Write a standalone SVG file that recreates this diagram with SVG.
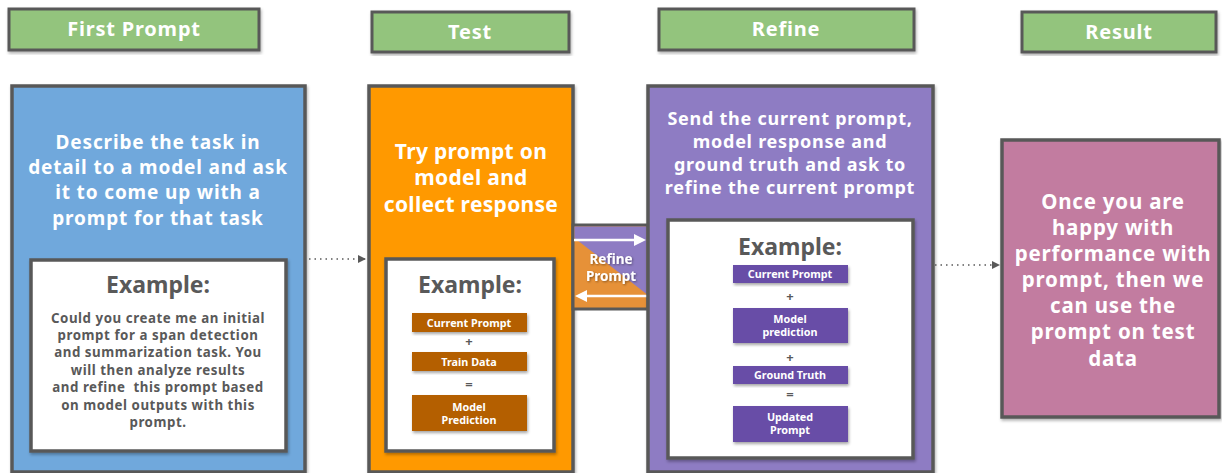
<svg xmlns="http://www.w3.org/2000/svg" width="1222" height="473" viewBox="0 0 1222 473">
<defs>
<style>
.hdr{fill:#93C47D;stroke:#595959;stroke-width:3;filter:url(#sh)}
.box{stroke:#595959;stroke-width:3.5;filter:url(#sh)}
.inner{fill:#fff;stroke:#595959;stroke-width:3.5;filter:url(#sh)}
text{font-family:"Noto Sans","Liberation Sans",sans-serif;font-weight:bold;text-anchor:middle}
.ht{fill:#fff;font-size:20px;letter-spacing:0.8px}
.wt{fill:#fff}
.ex{fill:#595959;font-size:23px}
.gt{fill:#595959}
.sm{fill:#fff;font-size:10.8px}
.br{fill:#B45F06;filter:url(#sh2)}
.pp{fill:#674EA7;filter:url(#sh2)}
.dot{stroke:#595959;stroke-width:1.5;stroke-dasharray:1.5 4;fill:none}
</style>
<filter id="sh" x="-10%" y="-10%" width="120%" height="120%"><feDropShadow dx="1" dy="2" stdDeviation="1.5" flood-color="#000" flood-opacity="0.3"/></filter>
<filter id="sh2" x="-10%" y="-20%" width="120%" height="140%"><feDropShadow dx="1" dy="2" stdDeviation="1.5" flood-color="#000" flood-opacity="0.35"/></filter>
<filter id="tsh" x="-10%" y="-20%" width="120%" height="140%"><feDropShadow dx="1" dy="1" stdDeviation="1" flood-color="#000" flood-opacity="0.4"/></filter>
<marker id="ah" markerWidth="8" markerHeight="8" refX="7" refY="4" orient="auto" markerUnits="userSpaceOnUse"><path d="M0,0 L8,4 L0,8 Z" fill="#595959"/></marker>
</defs>

<g id="hdr-first"><rect class="hdr" x="9" y="9" width="250" height="41"/><text class="ht" x="134" y="36">First Prompt</text></g>
<g id="hdr-test"><rect class="hdr" x="372" y="12" width="197" height="40"/><text class="ht" x="470" y="39">Test</text></g>
<g id="hdr-refine"><rect class="hdr" x="659" y="9" width="255" height="41"/><text class="ht" x="786" y="36">Refine</text></g>
<g id="hdr-result"><rect class="hdr" x="1022" y="12" width="194" height="40"/><text class="ht" x="1119" y="39">Result</text></g>

<g id="first">
<rect class="box" x="12" y="86" width="293" height="386" fill="#6FA8DC"/>
<text class="wt" font-size="19" letter-spacing="0.85"><tspan x="158" y="149">Describe the task in</tspan><tspan x="158" y="174">detail to a model and ask</tspan><tspan x="158" y="199">it to come up with a</tspan><tspan x="158" y="225">prompt for that task</tspan></text>
<rect class="inner" x="31" y="260" width="255" height="191"/>
<text class="ex" x="158" y="293">Example:</text>
<text class="gt" font-size="13.3" letter-spacing="0.55" style="white-space:pre"><tspan x="158" y="323">Could you create me an initial</tspan><tspan x="158" y="340">prompt for a span detection</tspan><tspan x="158" y="357">and summarization task. You</tspan><tspan x="158" y="375">will then analyze results</tspan><tspan x="158" y="392">and refine  this prompt based</tspan><tspan x="158" y="410">on model outputs with this</tspan><tspan x="158" y="427">prompt.</tspan></text>
</g>

<g id="test">
<rect class="box" x="369" y="86" width="204" height="386" fill="#FF9900"/>
<text class="wt" font-size="21" letter-spacing="0.3"><tspan x="471" y="159">Try prompt on</tspan><tspan x="471" y="185">model and</tspan><tspan x="471" y="212">collect response</tspan></text>
<rect class="inner" x="386" y="259" width="168" height="192"/>
<text class="ex" x="470" y="293">Example:</text>
<rect class="br" x="412" y="313" width="115" height="19"/><text class="sm" x="469" y="326.5">Current Prompt</text>
<text class="gt" font-size="13" x="469" y="346">+</text>
<rect class="br" x="412" y="352" width="115" height="19"/><text class="sm" x="469" y="365.5">Train Data</text>
<text class="gt" font-size="13" x="469" y="389">=</text>
<rect class="br" x="412" y="395" width="115" height="36"/><text class="sm"><tspan x="469" y="411">Model</tspan><tspan x="469" y="424">Prediction</tspan></text>
</g>

<g id="refine-link">
<rect x="573" y="225" width="75" height="84" fill="#E69138" stroke="#595959" stroke-width="3"/>
<path d="M574.5,226.5 H646.5 V294 L574.5,238 Z" fill="#8E7CC3"/>
<path d="M574,240 H638" stroke="#fff" stroke-width="2.5"/><path d="M646,240 L634,234 L634,246 Z" fill="#fff"/>
<path d="M584,296 H647" stroke="#fff" stroke-width="2.5"/><path d="M575,296 L587,290 L587,302 Z" fill="#fff"/>
<text class="wt" font-size="13.5" filter="url(#tsh)"><tspan x="611" y="264">Refine</tspan><tspan x="611" y="281">Prompt</tspan></text>
</g>

<g id="refine">
<rect class="box" x="648" y="86" width="285" height="386" fill="#8E7CC3"/>
<text class="wt" font-size="18" letter-spacing="0.75"><tspan x="790" y="125">Send the current prompt,</tspan><tspan x="790" y="148">model response and</tspan><tspan x="790" y="171">ground truth and ask to</tspan><tspan x="790" y="194">refine the current prompt</tspan></text>
<rect class="inner" x="668" y="220" width="245" height="238"/>
<text class="ex" x="790" y="255">Example:</text>
<rect class="pp" x="733" y="265" width="115" height="18"/><text class="sm" x="790" y="278">Current Prompt</text>
<text class="gt" font-size="13" x="790" y="301">+</text>
<rect class="pp" x="733" y="308" width="115" height="35"/><text class="sm"><tspan x="790" y="323">Model</tspan><tspan x="790" y="336">prediction</tspan></text>
<text class="gt" font-size="13" x="790" y="362">+</text>
<rect class="pp" x="733" y="366" width="115" height="18"/><text class="sm" x="790" y="379">Ground Truth</text>
<text class="gt" font-size="13" x="790" y="399">=</text>
<rect class="pp" x="733" y="406" width="115" height="36"/><text class="sm"><tspan x="790" y="421">Updated</tspan><tspan x="790" y="434">Prompt</tspan></text>
</g>

<g id="result">
<rect class="box" x="1002" y="140" width="217" height="277" fill="#C27BA0"/>
<text class="wt" font-size="20.5" letter-spacing="0.8"><tspan x="1113" y="209">Once you are</tspan><tspan x="1113" y="235">happy with</tspan><tspan x="1113" y="261">performance with</tspan><tspan x="1113" y="287">prompt, then we</tspan><tspan x="1113" y="313">can use the</tspan><tspan x="1113" y="339">prompt on test</tspan><tspan x="1113" y="366">data</tspan></text>
</g>

<g id="connectors">
<path class="dot" d="M309,259 H365" marker-end="url(#ah)"/>
<path class="dot" d="M935,265 H999" marker-end="url(#ah)"/>
</g>
</svg>
